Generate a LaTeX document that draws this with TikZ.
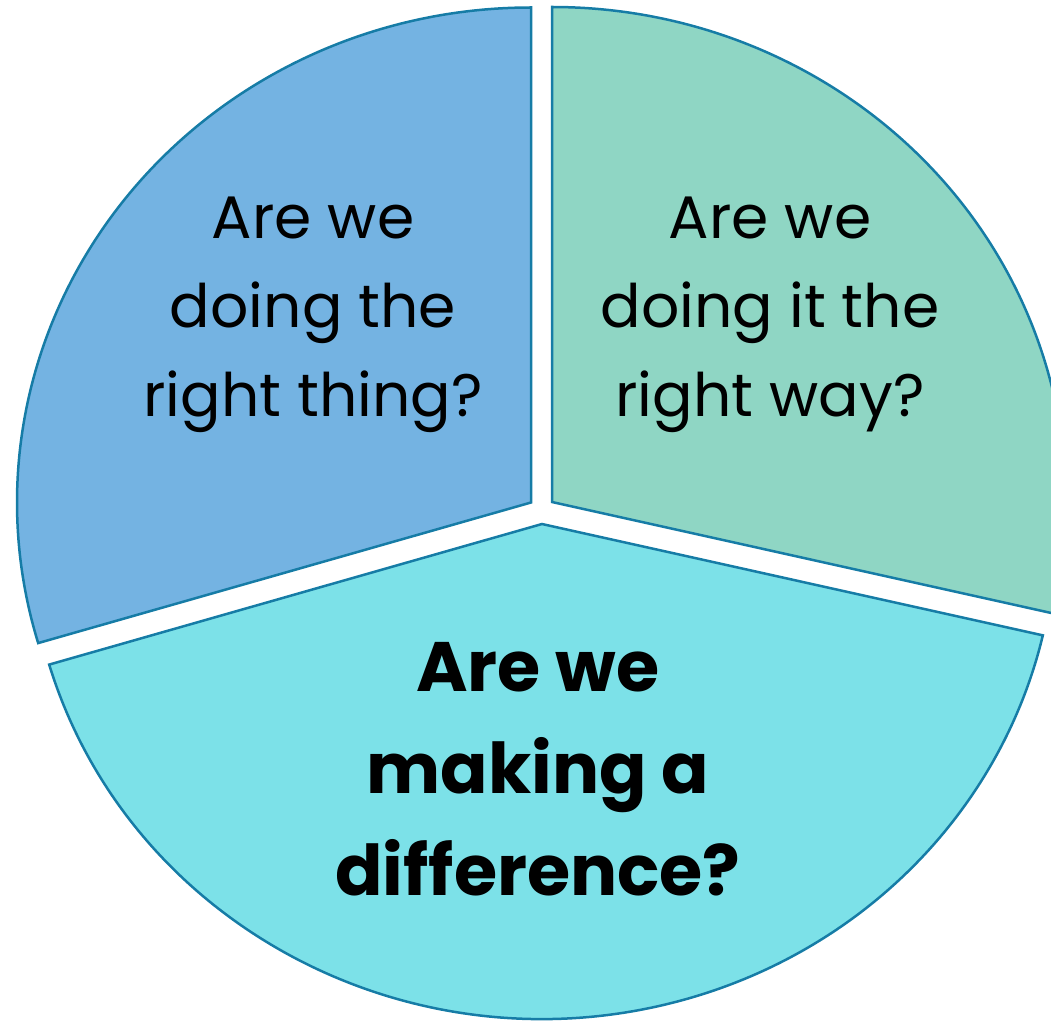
\documentclass[tikz,border=0pt]{standalone}
\usepackage{fontspec}
\setmainfont{Poppins}
\usepackage{tikz}
\definecolor{sliceblue}{RGB}{116,179,226}
\definecolor{slicemint}{RGB}{143,214,196}
\definecolor{slicecyan}{RGB}{124,225,232}
\definecolor{sliceedge}{RGB}{22,124,166}
\tikzstyle{slice} = [draw=sliceedge, line width=2.5pt, line join=miter]
\tikzstyle{question} = [align=center, text=black, font=\fontsize{60}{89}\selectfont]
\tikzstyle{bigquestion} = [align=center, text=black, font=\fontsize{70}{102}\selectfont\bfseries]

\begin{document}
\begin{tikzpicture}[x=1pt, y=1pt]
\useasboundingbox (-541.5,-510) rectangle (509.5,510);
\clip (-541.5,-510) rectangle (509.5,510);

% exploded slices
\draw[slice, fill=sliceblue, shift={(-10.5,7.5)}] (0,0) -- (0,495)
  arc[start angle=90, end angle=196.5, x radius=514, y radius=495] -- cycle;
\draw[slice, fill=slicemint, shift={(10.5,8)}] (0,0) -- (0,495)
  arc[start angle=90, end angle=-13, x radius=514, y radius=495] -- cycle;
\draw[slice, fill=slicecyan, shift={(0.5,-14)}] (0,0) -- (196.5:514 and 495)
  arc[start angle=196.5, end angle=347, x radius=514, y radius=495] -- cycle;

\node (thing) [question] at (-228.5,195) {Are we\\doing the\\right thing?};
\node (way) [question] at (228.5,195) {Are we\\doing it the\\right way?};
\node (difference) [bigquestion] at (-3.5,-259) {Are we\\making a\\difference?};

\end{tikzpicture}
\end{document}
